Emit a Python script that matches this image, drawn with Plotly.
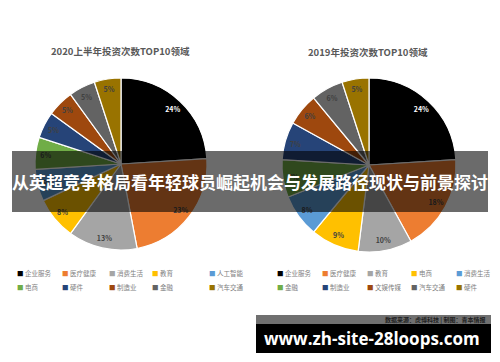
import plotly.graph_objects as go

colors = ["#000000", "#ED7D31", "#A5A5A5", "#FFC000", "#5B9BD5",
          "#70AD47", "#264478", "#9E480E", "#636363", "#997300"]

left_title = "2020上半年投资次数TOP10领域"
left_labels = ["企业服务", "医疗健康", "消费生活", "教育", "人工智能",
               "电商", "硬件", "制造业", "金融", "汽车交通"]
left_values = [24, 23, 13, 8, 6, 6, 5, 5, 5, 5]

right_title = "2019年投资次数TOP10领域"
right_labels = ["企业服务", "医疗健康", "教育", "电商", "消费生活",
                "金融", "制造业", "文娱传媒", "汽车交通", "硬件"]
right_values = [24, 18, 10, 9, 8, 7, 7, 6, 6, 5]

banner_text = "从英超竞争格局看年轻球员崛起机会与发展路径现状与前景探讨"
source_text = "数据来源：虎博科技 | 制图：青本情报"
url_text = "www.zh-site-28loops.com"

# page body has an 8px margin: lay the figure out in window pixels minus that offset
OX, OY = 8, 8
W, H = 484, 346


def px(x):
    return (x - OX) / W


def py(y):
    return 1 - (y - OY) / H


txtcols = ["#FFFFFF"] + ["#404040"] * 9

fig = go.Figure()


def add_pie(labels, values, cx, cy, r):
    dom = dict(x=[px(cx - r), px(cx + r)], y=[py(cy + r), py(cy - r)])
    fig.add_trace(go.Pie(
        labels=labels, values=values, sort=False, direction="clockwise",
        rotation=0, marker=dict(colors=colors, line=dict(color="#FFFFFF", width=1.2)),
        textinfo="none", showlegend=False, hoverinfo="label+percent", domain=dom,
    ))
    # transparent ring carrying the labels near the outer edge (Excel "inside end")
    fig.add_trace(go.Pie(
        labels=labels, values=values, sort=False, direction="clockwise",
        rotation=0, hole=0.76,
        marker=dict(colors=["rgba(0,0,0,0)"] * len(values), line=dict(width=0)),
        texttemplate="<b>%{value}%</b>", textposition="inside",
        insidetextorientation="horizontal",
        textfont=dict(size=7, color=txtcols, family="Noto Sans CJK SC"),
        showlegend=False, hoverinfo="skip", domain=dom,
    ))


add_pie(left_labels, left_values, 121, 164, 86)
add_pie(right_labels, right_values, 369, 165, 87)

ann = []
ann.append(dict(x=px(120), y=py(51), xanchor="center", yanchor="middle",
                text="<b>" + left_title + "</b>", showarrow=False,
                xref="paper", yref="paper", font=dict(size=9.5, color="#595959", family="Noto Sans CJK SC")))
ann.append(dict(x=px(368), y=py(52), xanchor="center", yanchor="middle",
                text="<b>" + right_title + "</b>", showarrow=False,
                xref="paper", yref="paper", font=dict(size=9.5, color="#595959", family="Noto Sans CJK SC")))


def add_legend(labels, xs, rows_y):
    for i, lab in enumerate(labels):
        x = xs[i % 5]
        y = rows_y[i // 5]
        ann.append(dict(x=px(x), y=py(y), xanchor="left", yanchor="middle", showarrow=False,
                        xref="paper", yref="paper",
                        text="<span style='color:%s'>■</span> %s" % (colors[i], lab),
                        font=dict(size=6.5, color="#808080", family="Noto Sans CJK SC")))


add_legend(left_labels, [15, 60, 107, 150, 207], [273, 287])
add_legend(right_labels, [275, 320, 365, 409, 454], [273, 287])

shapes = [
    dict(type="rect", xref="paper", yref="paper", x0=px(12), x1=px(488), y0=py(212), y1=py(151),
         fillcolor="rgba(0,0,0,0.58)", line=dict(width=0), layer="above"),
    dict(type="rect", xref="paper", yref="paper", x0=px(256), x1=px(491), y0=py(324), y1=py(315),
         fillcolor="#707070", line=dict(width=0), layer="above"),
    dict(type="rect", xref="paper", yref="paper", x0=px(256), x1=px(491), y0=py(353), y1=py(324),
         fillcolor="#000000", line=dict(width=0), layer="above"),
]

ann.append(dict(x=px(250), y=py(181), xanchor="center", yanchor="middle",
                text="<b>" + banner_text + "</b>", showarrow=False,
                xref="paper", yref="paper", font=dict(size=17, color="#FFFFFF", family="Noto Sans CJK SC")))
ann.append(dict(x=px(488), y=py(319.5), xanchor="right", yanchor="middle",
                text="<b>" + source_text + "</b>", showarrow=False,
                xref="paper", yref="paper", font=dict(size=6, color="#202020", family="Noto Sans CJK SC")))
ann.append(dict(x=px(372), y=py(338.5), xanchor="center", yanchor="middle",
                text="<b>" + url_text + "</b>", showarrow=False,
                xref="paper", yref="paper", font=dict(size=17, color="#FFFFFF", family="Open Sans")))

fig.update_layout(width=W, height=H, margin=dict(l=0, r=0, t=0, b=0),
                  paper_bgcolor="#FFFFFF", plot_bgcolor="#FFFFFF",
                  annotations=ann, shapes=shapes)

fig.write_html("out.html")
